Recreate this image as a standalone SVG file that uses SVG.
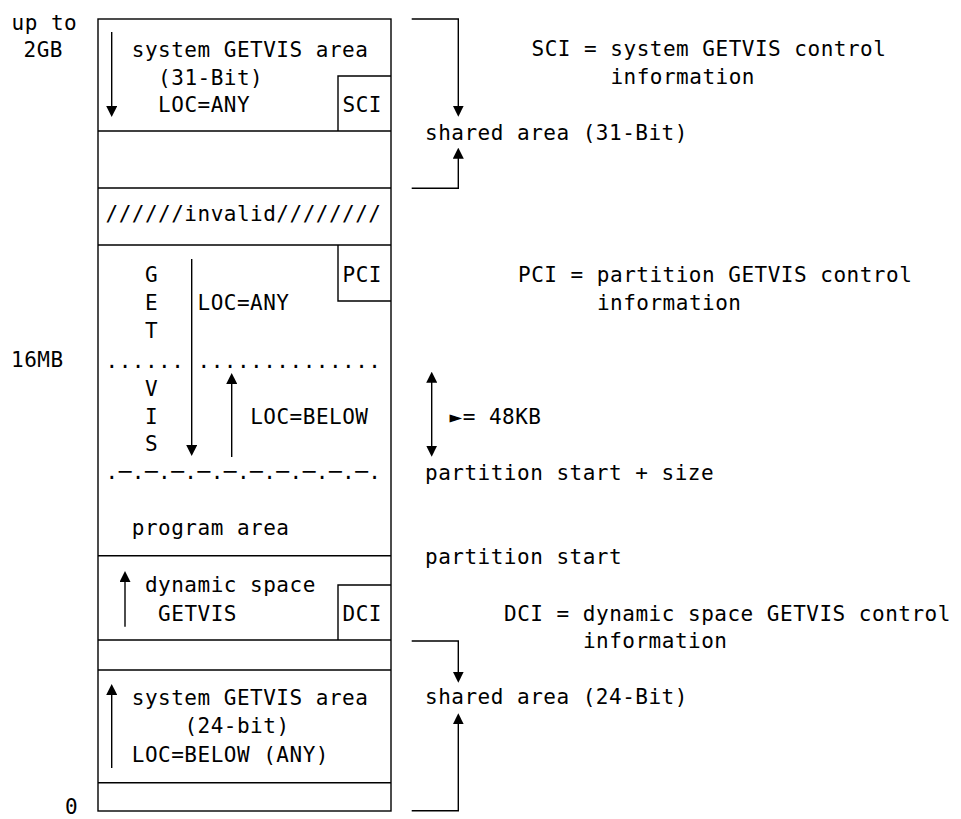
<svg xmlns="http://www.w3.org/2000/svg" width="961" height="819" viewBox="0 0 961 819">
<style>
text{font-family:"DejaVu Sans Mono","Liberation Mono",monospace;font-size:21px;letter-spacing:0.5px;fill:#000;white-space:pre}
.ln{stroke:#000;stroke-width:1.4;fill:none}
.ar{stroke:#000;stroke-width:1.4;fill:none;marker-end:url(#ah)}
.ar2{stroke:#000;stroke-width:1.4;fill:none;marker-start:url(#ah);marker-end:url(#ah)}
</style>
<defs>
<marker id="ah" viewBox="0 0 11 11" markerWidth="11" markerHeight="11" refX="7" refY="5.5" orient="auto-start-reverse" markerUnits="userSpaceOnUse">
<path d="M0,0 L11,5.5 L0,11 Z" fill="#000"/>
</marker>
</defs>
<rect width="961" height="819" fill="#fff"/>

<g id="axis-labels">
<text x="11.5" y="29.5">up to</text>
<text x="23.5" y="57">2GB</text>
<text x="11" y="367">16MB</text>
<text x="65" y="814">0</text>
</g>

<g id="memory-box">
<rect class="ln" x="98" y="19" width="293" height="792"/>
</g>

<g id="system-getvis-31">
<text x="131.8" y="57">system GETVIS area</text>
<text x="158.1" y="84.5">(31-Bit)</text>
<text x="158.1" y="111.7">LOC=ANY</text>
<line class="ln" x1="98" y1="131" x2="391" y2="131"/>
</g>
<g id="sci">
<polyline class="ln" points="338,131 338,76 391,76"/>
<text x="342.5" y="111.7">SCI</text>
</g>

<g id="shared-31-area">
<line class="ln" x1="98" y1="188" x2="391" y2="188"/>
</g>

<g id="invalid">
<text x="105.5" y="220.5">//////invalid////////</text>
<line class="ln" x1="98" y1="245" x2="391" y2="245"/>
</g>

<g id="partition-getvis">
<text x="144.95" y="282">G</text>
<text x="144.95" y="310">E</text>
<text x="144.95" y="338">T</text>
<text x="144.95" y="396">V</text>
<text x="144.95" y="423.5">I</text>
<text x="144.95" y="451">S</text>
<text x="197.5" y="310">LOC=ANY</text>
<text x="250.2" y="423.5">LOC=BELOW</text>
<text x="105.5" y="368">...... ..............</text>
<text x="105.5" y="479">.─.─.─.─.─.─.─.─.─.─.</text>
</g>
<g id="pci">
<polyline class="ln" points="338,245 338,301 391,301"/>
<text x="342.5" y="282">PCI</text>
</g>

<g id="program-area">
<text x="131.8" y="535">program area</text>
<line class="ln" x1="98" y1="555.7" x2="391" y2="555.7"/>
</g>

<g id="dynamic-space">
<text x="144.95" y="592">dynamic space</text>
<text x="158.1" y="621">GETVIS</text>
<line class="ln" x1="98" y1="640" x2="391" y2="640"/>
</g>
<g id="dci">
<polyline class="ln" points="338,640 338,585 391,585"/>
<text x="342.5" y="621">DCI</text>
</g>

<g id="shared-24-area">
<line class="ln" x1="98" y1="670" x2="391" y2="670"/>
</g>

<g id="system-getvis-24">
<text x="131.8" y="705">system GETVIS area</text>
<text x="184.4" y="733">(24-bit)</text>
<text x="131.8" y="761.7">LOC=BELOW (ANY)</text>
<line class="ln" x1="98" y1="782.7" x2="391" y2="782.7"/>
</g>

<g id="legend">
<text x="531.5" y="56">SCI = system GETVIS control</text>
<text x="610.4" y="83.5">information</text>
<text x="425" y="139.5">shared area (31-Bit)</text>
<text x="518" y="281.7">PCI = partition GETVIS control</text>
<text x="596.9" y="310">information</text>
<text x="449.5" y="423.5">►= 48KB</text>
<text x="425" y="479.5">partition start + size</text>
<text x="425" y="563.5">partition start</text>
<text x="504" y="620.7">DCI = dynamic space GETVIS control</text>
<text x="582.9" y="648">information</text>
<text x="425" y="704">shared area (24-Bit)</text>
</g>

<g id="connectors">
<line class="ar" x1="111.7" y1="32" x2="111.7" y2="113"/>
<line class="ar" x1="191.7" y1="259" x2="191.7" y2="452"/>
<line class="ar" x1="231.7" y1="457" x2="231.7" y2="377"/>
<line class="ar" x1="125" y1="626.7" x2="125" y2="575"/>
<line class="ar" x1="111.7" y1="768" x2="111.7" y2="688"/>
<polyline class="ar" points="411.7,19 458.3,19 458.3,112.7"/>
<polyline class="ar" points="411.7,188.3 458.3,188.3 458.3,151.7"/>
<line class="ar2" x1="431.7" y1="375.7" x2="431.7" y2="452.7"/>
<polyline class="ar" points="411.7,641 458.3,641 458.3,678.7"/>
<polyline class="ar" points="411.7,810.7 458.3,810.7 458.3,717.3"/>
</g>
</svg>
